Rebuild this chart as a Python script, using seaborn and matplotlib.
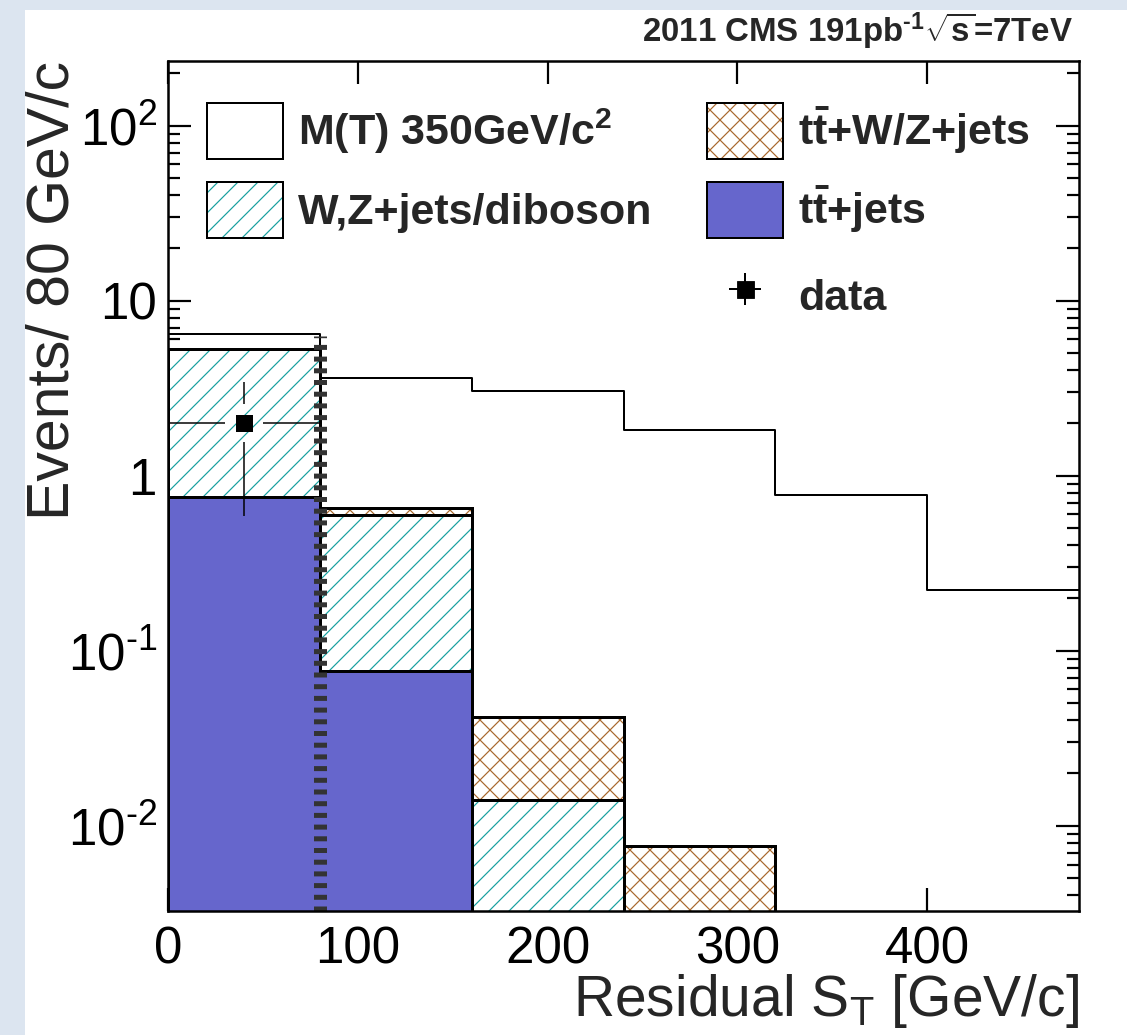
import matplotlib
matplotlib.use("Agg")
import matplotlib.pyplot as plt
import numpy as np
import pandas as pd
import seaborn as sns
from matplotlib.patches import Patch, PathPatch, Rectangle
from matplotlib.lines import Line2D
from matplotlib.collections import PolyCollection
from matplotlib.ticker import FixedLocator, FixedFormatter, NullFormatter, NullLocator, LogLocator

# ---------------- data ----------------
bin_edges = [0, 80, 160, 240, 320, 400, 480]
bin_centers = [40, 120, 200, 280, 360, 440]
signal_mt350 = [6.43, 3.60, 3.05, 1.82, 0.776, 0.222]
ttbar_wz_jets = [0.04, 0.057, 0.0276, 0.0077, 0.0, 0.0]
wz_jets_diboson = [4.52, 0.519, 0.0140, 0.0, 0.0, 0.0]
ttbar_jets = [0.759, 0.0769, 0.0, 0.0, 0.0, 0.0]
data_x = [40]
data_y = [2.0]
data_yerr = [1.41]
data_xerr = [40]
cut_x = [80]
cut_top = [6.3]

x_ticks = [0, 100, 200, 300, 400]
x_tick_labels = ["0", "100", "200", "300", "400"]
y_ticks = [1e-2, 1e-1, 1, 10, 100]
y_tick_labels = ["$10^{\u20102}$", "$10^{\u20101}$", "1", "10", "$10^{2}$"]

label_signal = r"M(T) 350GeV/c$^{\mathbf{2}}$"
label_wz = "W,Z+jets/diboson"
label_ttwz = r"$\mathbf{t\bar{t}}$+W/Z+jets"
label_tt = r"$\mathbf{t\bar{t}}$+jets"
label_data = "data"
title_text = "2011 CMS 191pb$^{\\mathbf{\u20101}}\\sqrt{\\mathbf{s}}$=7TeV"
xlabel_text = r"Residual S$_{\mathrm{T}}$ [GeV/c]"
ylabel_text = "Events/ 80 GeV/c"

# ---------------- style ----------------
teal = "#17a0a0"
brown = "#a8692e"
blue = "#6666cc"

DPI = 60
def P(px):
    """pixels -> points at the output dpi"""
    return px * 72.0 / DPI

sns.set_style("ticks")
plt.rcParams["font.family"] = ["Liberation Sans", "DejaVu Sans"]
plt.rcParams.update({
    "mathtext.fontset": "custom",
    "mathtext.rm": "Liberation Sans",
    "mathtext.bf": "Liberation Sans:bold",
    "mathtext.it": "Liberation Sans:italic",
    "mathtext.sf": "Liberation Sans",
    "mathtext.default": "regular",
    "hatch.linewidth": P(1.2),
    "lines.scale_dashes": False,
    "axes.edgecolor": "black",
    "xtick.color": "black",
    "ytick.color": "black",
})

W, H = 1127, 1035
fig = plt.figure(figsize=(W / DPI, H / DPI), dpi=DPI, facecolor="#dce5f0")
fig.add_artist(Rectangle((25 / W, 0), 1, 1 - 10 / H, transform=fig.transFigure,
                         facecolor="white", edgecolor="none", zorder=-10))
ax = fig.add_axes([168 / W, 1 - 911 / H, (1079 - 168) / W, (911 - 61) / H])
ax.set_facecolor("white")

# signal histogram (outline)
sns.histplot(x=bin_centers, weights=signal_mt350, bins=bin_edges, element="step",
             fill=False, color="black", linewidth=P(2), ax=ax, zorder=3)

# stacked backgrounds
df = pd.DataFrame({
    "st": bin_centers * 3,
    "events": ttbar_wz_jets + wz_jets_diboson + ttbar_jets,
    "process": ["ttWZ"] * 6 + ["WZ"] * 6 + ["tt"] * 6,
})
id_colors = {"ttWZ": "#ff0000", "WZ": "#00ff00", "tt": "#0000ff"}
sns.histplot(data=df, x="st", weights="events", hue="process",
             hue_order=["ttWZ", "WZ", "tt"], bins=bin_edges, multiple="stack",
             element="step", fill=True, palette=id_colors, alpha=1, linewidth=0,
             legend=False, ax=ax, zorder=2)

ax.set_yscale("log")
ax.set_xlim(0, 480)
y_lo, y_hi = 3.255e-3, 234.0
ax.set_ylim(y_lo, y_hi)

styles = {
    (1.0, 0.0, 0.0): dict(face="white", hatch="x", hcol=brown),
    (0.0, 1.0, 0.0): dict(face="white", hatch="/", hcol=teal),
    (0.0, 0.0, 1.0): dict(face=blue, hatch=None, hcol="black"),
}
for coll in list(ax.collections):
    if not isinstance(coll, PolyCollection):
        continue
    fc = tuple(np.round(coll.get_facecolor()[0][:3], 2))
    st = styles.get(fc)
    if st is None:
        continue
    coll.set_facecolor(st["face"])
    coll.set_edgecolor(st["hcol"])
    coll.set_linewidth(0)
    if st["hatch"]:
        coll.set_hatch(st["hatch"])
    for p in coll.get_paths():
        ax.add_patch(PathPatch(p, facecolor="none", edgecolor="black", linewidth=P(3),
                               zorder=2.5, transform=ax.transData))

# cut line
ax.vlines(cut_x, y_lo, cut_top, colors="#333333", linewidth=P(13),
          linestyles=[(0, (P(5), P(6.7)))], zorder=4)

# data point with ROOT-style gapped error bars
gap = 19
to_disp = ax.transData.transform
inv = ax.transData.inverted().transform
for x, y, ye, xe in zip(data_x, data_y, data_yerr, data_xerr):
    xd, yd = to_disp((x, y))
    y_up = inv((xd, yd + gap))[1]
    y_dn = inv((xd, yd - gap))[1]
    x_lf = inv((xd - gap, yd))[0]
    x_rt = inv((xd + gap, yd))[0]
    ax.vlines([x, x], [y_up, y - ye], [y + ye, y_dn], colors="black", linewidth=P(1.5), zorder=5)
    ax.hlines([y, y], [x - xe, x_rt], [x_lf, x + xe], colors="black", linewidth=P(1.5), zorder=5)
sns.scatterplot(x=data_x, y=data_y, marker="s", s=P(17) ** 2, color="black",
                edgecolor="black", linewidth=0, ax=ax, zorder=6, legend=False)

# axes & ticks
ax.xaxis.set_major_locator(FixedLocator(x_ticks))
ax.xaxis.set_major_formatter(FixedFormatter(x_tick_labels))
ax.xaxis.set_minor_locator(NullLocator())
ax.yaxis.set_major_locator(FixedLocator(y_ticks))
ax.yaxis.set_major_formatter(FixedFormatter(y_tick_labels))
ax.yaxis.set_minor_locator(LogLocator(base=10, subs=(2, 3, 4, 5, 6, 7, 8, 9), numticks=20))
ax.yaxis.set_minor_formatter(NullFormatter())
ax.tick_params(which="both", direction="in", top=True, right=True, width=P(2.2))
ax.tick_params(which="major", length=P(23))
ax.tick_params(which="minor", length=P(12))
ax.tick_params(axis="x", labelsize=P(51), pad=P(14))
ax.tick_params(axis="y", labelsize=P(51), pad=P(11))
for s in ax.spines.values():
    s.set_linewidth(P(2.5))
    s.set_zorder(7)

ax.set_xlabel(xlabel_text, fontsize=P(57), loc="right")
ax.xaxis.set_label_coords(1.0, -0.0715)
ax.set_ylabel(ylabel_text, fontsize=P(59), loc="top")
ax.yaxis.set_label_coords(-0.0955, 1.0)

fig.text(1073 / W, 1 - 42 / H, title_text, ha="right", va="baseline",
         fontsize=P(33), fontweight="bold")

# legends
h_sig = Patch(facecolor="white", edgecolor="black", linewidth=P(2))
h_wz = (Patch(facecolor="white", edgecolor=teal, hatch="/", linewidth=0),
        Patch(facecolor="none", edgecolor="black", linewidth=P(2)))
h_ttwz = (Patch(facecolor="white", edgecolor=brown, hatch="x", linewidth=0),
          Patch(facecolor="none", edgecolor="black", linewidth=P(2)))
h_tt = Patch(facecolor=blue, edgecolor="black", linewidth=P(2))
h_data = (Line2D([], [], marker="+", ms=P(32), mew=P(2), color="black", ls="none"),
          Line2D([], [], marker="s", ms=P(17), color="black", ls="none"))

leg_kw = dict(loc="upper left", bbox_transform=fig.transFigure, frameon=False,
              prop={"weight": "bold", "size": P(43)}, handlelength=76 / 43,
              handleheight=1.63, handletextpad=0.35, labelspacing=0.53,
              borderpad=0, borderaxespad=0)
leg1 = ax.legend([h_sig, h_wz], [label_signal, label_wz],
                 bbox_to_anchor=(207 / W, 1 - 103 / H), **leg_kw)
ax.add_artist(leg1)
leg2 = ax.legend([h_ttwz, h_tt], [label_ttwz, label_tt],
                 bbox_to_anchor=(707 / W, 1 - 103 / H), **leg_kw)
ax.add_artist(leg2)
leg3 = ax.legend([h_data], [label_data],
                 bbox_to_anchor=(707 / W, 1 - 268 / H), **leg_kw)

fig.savefig("out.png", dpi=DPI, facecolor=fig.get_facecolor())
